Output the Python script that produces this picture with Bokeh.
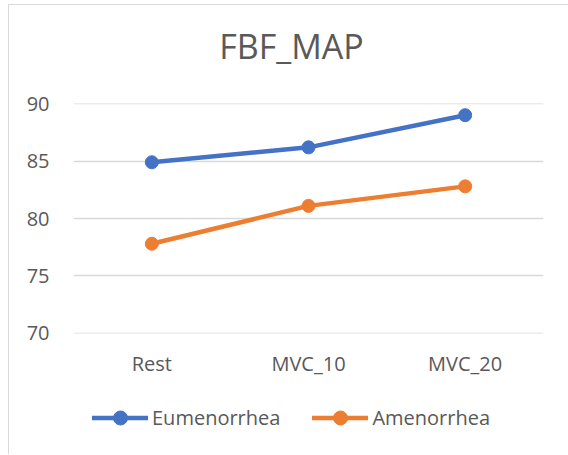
from bokeh.plotting import figure
from bokeh.layouts import column
from bokeh.models import Range1d, Legend, LegendItem, ColumnDataSource, FixedTicker, Label
from bokeh.embed import file_html
from bokeh.resources import INLINE

categories = ["Rest", "MVC_10", "MVC_20"]
eumenorrhea = [84.9, 86.2, 89.0]
amenorrhea = [77.8, 81.1, 82.8]
y_ticks = [70, 75, 80, 85, 90]
series_names = ["Eumenorrhea", "Amenorrhea"]
title_text = "FBF_MAP"

FONT = "Open Sans"
TXT = "#595959"
BLUE = "#4472C4"
ORANGE = "#ED7D31"
W = 559

def blank(height):
    f = figure(width=W, height=height, output_backend="svg", toolbar_location=None,
               x_range=Range1d(0, 1), y_range=Range1d(0, 1),
               x_axis_type=None, y_axis_type=None, min_border=0)
    f.outline_line_color = None
    f.xgrid.grid_line_color = None
    f.ygrid.grid_line_color = None
    f.background_fill_color = "white"
    f.border_fill_color = "white"
    return f

# title strip
head = blank(65)
head.add_layout(Label(x=218, y=25, x_units="screen", y_units="screen", text=title_text,
                      text_font=FONT, text_font_size="34px", text_color=TXT,
                      text_align="center", text_baseline="alphabetic"))

# main chart
src = ColumnDataSource(dict(cat=categories, eu=eumenorrhea, am=amenorrhea))
p = figure(x_range=categories, y_range=Range1d(69.98, 90.02), width=W, height=315,
           output_backend="svg", toolbar_location=None,
           min_border_left=64, min_border_right=25, min_border_top=33, min_border_bottom=52)
p.outline_line_color = None
p.background_fill_color = "white"
p.border_fill_color = "white"
p.xgrid.grid_line_color = None
p.ygrid.grid_line_color = "#D9D9D9"
p.ygrid.grid_line_width = 1.3
p.yaxis.ticker = FixedTicker(ticks=y_ticks)
p.yaxis.axis_line_color = None
p.yaxis.major_tick_line_color = None
p.yaxis.minor_tick_line_color = None
p.yaxis.major_label_standoff = 18
p.xaxis.axis_line_color = None
p.xaxis.major_tick_line_color = None
p.xaxis.major_label_standoff = 10
for ax in (p.xaxis, p.yaxis):
    ax.major_label_text_font = FONT
    ax.major_label_text_font_size = "20px"
    ax.major_label_text_color = TXT

for col, color in (("eu", BLUE), ("am", ORANGE)):
    p.line("cat", col, source=src, line_color=color, line_width=4.5,
           line_cap="round", line_join="round")
    p.scatter("cat", col, source=src, size=13, fill_color=color, line_color=color)

# legend strip (proxy renderers sit outside the visible range)
foot = blank(69)
items = []
for name, color in zip(series_names, (BLUE, ORANGE)):
    lr = foot.line(x=[5, 6], y=[5, 6], line_color=color, line_width=4.5, line_cap="round")
    sr = foot.scatter(x=[5], y=[5], size=13, fill_color=color, line_color=color)
    items.append(LegendItem(label=name, renderers=[lr, sr]))
legend = Legend(items=items, orientation="horizontal", location=(19, 19))
legend.label_text_font = FONT
legend.label_text_font_size = "20px"
legend.label_text_color = TXT
legend.glyph_width = 56
legend.glyph_height = 35
legend.label_height = 35
legend.label_standoff = 4
legend.spacing = 32
legend.padding = 0
legend.margin = 0
legend.border_line_color = None
legend.background_fill_alpha = 0
foot.add_layout(legend, "center")

layout = column(head, p, foot, spacing=0,
                styles={"margin-left": "8px", "margin-top": "4px",
                        "border-left": "1px solid #D9D9D9", "border-top": "1px solid #D9D9D9"})

open("out.html", "w").write(file_html(layout, INLINE))
